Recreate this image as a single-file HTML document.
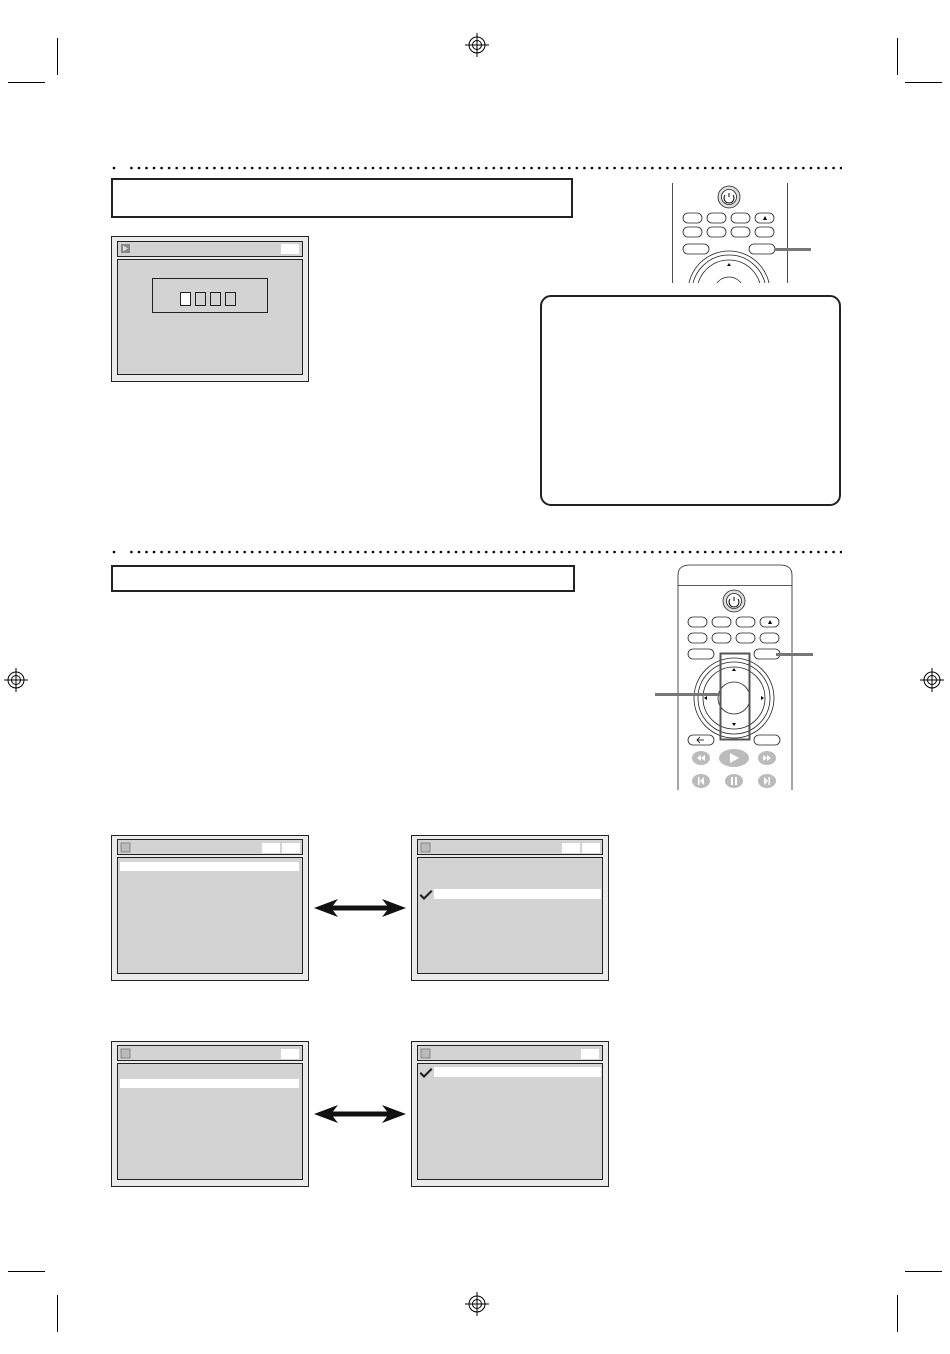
<!DOCTYPE html>
<html><head><meta charset="utf-8"><style>
html,body{margin:0;padding:0;background:#fff}
svg{display:block;font-family:"Liberation Sans",sans-serif}
</style></head><body>
<svg width="950" height="1354" viewBox="0 0 950 1354" xmlns="http://www.w3.org/2000/svg">
<defs>
<g id="reg"><circle r="8" fill="none" stroke="#000" stroke-width="1"/><circle r="4.5" fill="none" stroke="#000" stroke-width="1"/><line x1="-12" y1="0" x2="12" y2="0" stroke="#000"/><line x1="0" y1="-12" x2="0" y2="12" stroke="#000"/></g>
<pattern id="dots" x="130" y="163" width="7.55" height="10" patternUnits="userSpaceOnUse"><circle cx="1.4" cy="5" r="1.3" fill="#000"/></pattern>
<pattern id="dots2" x="130" y="547" width="7.55" height="10" patternUnits="userSpaceOnUse"><circle cx="1.4" cy="5" r="1.3" fill="#000"/></pattern>
<g id="scr"><rect x="0.5" y="0.5" width="197" height="145" fill="#ebebeb" stroke="#222"/><rect x="6.5" y="4.5" width="185" height="15" fill="#d3d3d3" stroke="#222"/><rect x="6.5" y="22.5" width="185" height="116" fill="#d3d3d3" stroke="#222"/><rect x="10" y="8" width="9" height="9" fill="#bbb" stroke="#777" stroke-width="0.8"/></g>
<path id="chk" d="M0 4 l3 3 l7 -7 l1.5 1.5 l-8.5 8.5 l-4.5 -4.5z" fill="#222"/>
</defs>
<use href="#reg" x="477" y="45"/><use href="#reg" x="16" y="680"/><use href="#reg" x="932" y="680"/><use href="#reg" x="477" y="1304"/>
<g stroke="#000" stroke-width="1">
<line x1="57.5" y1="38" x2="57.5" y2="75"/><line x1="897.5" y1="38" x2="897.5" y2="75"/>
<line x1="8" y1="82.5" x2="45" y2="82.5"/><line x1="905" y1="82.5" x2="942" y2="82.5"/>
<line x1="8" y1="1271.5" x2="45" y2="1271.5"/><line x1="905" y1="1271.5" x2="942" y2="1271.5"/>
<line x1="57.5" y1="1295" x2="57.5" y2="1332"/><line x1="897.5" y1="1295" x2="897.5" y2="1332"/>
</g>
<circle cx="114" cy="168" r="1.3" fill="#000"/><circle cx="114" cy="552" r="1.3" fill="#000"/>
<rect x="129" y="163" width="713" height="10" fill="url(#dots)"/>
<rect x="129" y="547" width="713" height="10" fill="url(#dots2)"/>
<rect x="112" y="179" width="460" height="38" fill="none" stroke="#222" stroke-width="2"/>
<rect x="112" y="566" width="462" height="25" fill="none" stroke="#222" stroke-width="2"/>
<g transform="translate(111,236)">
<rect x="0.5" y="0.5" width="197" height="145" fill="#ebebeb" stroke="#222"/><rect x="6.5" y="5.5" width="185" height="15" fill="#d3d3d3" stroke="#222"/><rect x="6.5" y="23.5" width="185" height="115" fill="#d3d3d3" stroke="#222"/>
<rect x="10" y="8" width="9" height="9" fill="#888"/><path d="M12 9.5 L17 12.5 L12 15.5Z" fill="#ddd"/>
<rect x="170" y="8" width="18" height="10" fill="#fff"/>
<rect x="41.5" y="42.5" width="115" height="34" fill="none" stroke="#222"/>
<rect x="69.5" y="56.5" width="10" height="13" fill="#fff" stroke="#222"/>
<rect x="84.5" y="56.5" width="10" height="13" fill="none" stroke="#222"/>
<rect x="99.5" y="56.5" width="10" height="13" fill="none" stroke="#222"/>
<rect x="114.5" y="56.5" width="10" height="13" fill="none" stroke="#222"/>
</g>
<rect x="541" y="296" width="299" height="209" rx="10" fill="#fff" stroke="#222" stroke-width="2"/>
<g stroke="#222" fill="#fff" stroke-width="0.8">
<line x1="672.5" y1="183" x2="672.5" y2="283"/><line x1="787.5" y1="183" x2="787.5" y2="283"/>
<clipPath id="c1"><rect x="672" y="180" width="116" height="103"/></clipPath>
<g clip-path="url(#c1)">
<circle cx="729" cy="292" r="41"/><circle cx="729" cy="292" r="37"/><circle cx="729" cy="292" r="32"/><circle cx="729" cy="292" r="15"/>
</g>
<circle cx="729" cy="197" r="11" fill="#ddd"/><circle cx="729" cy="197" r="7.5" fill="#fff"/>
<rect x="683" y="213" width="19" height="10" rx="5"/><rect x="707" y="213" width="19" height="10" rx="5"/><rect x="731" y="213" width="19" height="10" rx="5"/><rect x="755" y="213" width="19" height="10" rx="5"/>
<rect x="683" y="227" width="19" height="10" rx="5"/><rect x="707" y="227" width="19" height="10" rx="5"/><rect x="731" y="227" width="19" height="10" rx="5"/><rect x="755" y="227" width="19" height="10" rx="5"/>
<rect x="683" y="244" width="26" height="10" rx="5"/><rect x="749" y="244" width="26" height="10" rx="5"/>
</g>
<path d="M729 193 v4 M725 195 a5 5 0 1 0 8 0" stroke="#000" fill="none" stroke-width="1"/>
<path d="M763 220 l2 -4 l2 4z" fill="#000"/><path d="M727 266 l2 -3 l2 3z" fill="#000"/>
<line x1="775" y1="249.5" x2="811" y2="249.5" stroke="#777" stroke-width="3"/>
<g stroke="#222" fill="#fff" stroke-width="0.8">
<path d="M678 790 V575 Q678 565 690 565 H780 Q792 565 792 575 V790" fill="#fff"/>
<line x1="678" y1="585.5" x2="792" y2="585.5"/>
<circle cx="734" cy="601" r="11" fill="#ddd"/><circle cx="734" cy="601" r="7.5"/>
<rect x="688" y="617" width="19" height="10" rx="5"/><rect x="712" y="617" width="19" height="10" rx="5"/><rect x="736" y="617" width="19" height="10" rx="5"/><rect x="760" y="617" width="19" height="10" rx="5"/>
<rect x="688" y="633" width="19" height="10" rx="5"/><rect x="712" y="633" width="19" height="10" rx="5"/><rect x="736" y="633" width="19" height="10" rx="5"/><rect x="760" y="633" width="19" height="10" rx="5"/>
<rect x="688" y="649" width="26" height="10" rx="5"/><rect x="754" y="649" width="26" height="10" rx="5"/>
<circle cx="734" cy="698" r="40"/><circle cx="734" cy="698" r="36"/><circle cx="734" cy="698" r="31"/><circle cx="734" cy="698" r="16"/>
<rect x="688" y="735" width="26" height="10" rx="5"/><rect x="754" y="735" width="26" height="10" rx="5"/>
<ellipse cx="701" cy="758" rx="9" ry="7" fill="#bbb" stroke="none"/><ellipse cx="734" cy="758" rx="15" ry="9" fill="#bbb" stroke="none"/><ellipse cx="767" cy="758" rx="9" ry="7" fill="#bbb" stroke="none"/>
<ellipse cx="701" cy="781" rx="9" ry="7" fill="#bbb" stroke="none"/><ellipse cx="734" cy="781" rx="9" ry="7" fill="#bbb" stroke="none"/><ellipse cx="767" cy="781" rx="9" ry="7" fill="#bbb" stroke="none"/>
</g>
<path d="M734 597 v4 M730 599 a5 5 0 1 0 8 0" stroke="#000" fill="none" stroke-width="1"/>
<path d="M768 624 l2 -4 l2 4z" fill="#000"/>
<path d="M732 671 l2 -3 l2 3z M732 723 l2 3 l2 -3z M761 696 l3 2 l-3 2z M707 696 l-3 2 l3 2z" fill="#000"/>
<path d="M730 753 l9 5 l-9 5z" fill="#fff"/>
<path d="M697 758 l4 -3 v6z M701 758 l4 -3 v6z M771 758 l-4 -3 v6z M767 758 l-4 -3 v6z" fill="#fff"/>
<path d="M731 777 h2 v8 h-2z M735 777 h2 v8 h-2z M698 777 h1.5 v8 h-1.5z M700 781 l4 -4 v8z M770 777 h-1.5 v8 h1.5z M768 781 l-4 -4 v8z" fill="#fff"/>
<path d="M697 740 h7 M700 737 l-3 3 l3 3" stroke="#000" fill="none" stroke-width="0.8"/>
<rect x="720.5" y="653.5" width="29" height="86" fill="none" stroke="#555" stroke-width="2"/>
<line x1="776" y1="654.5" x2="813" y2="654.5" stroke="#777" stroke-width="3"/>
<line x1="655" y1="694.5" x2="720" y2="694.5" stroke="#777" stroke-width="3"/>
<g transform="translate(111,835)"><use href="#scr"/><rect x="151" y="8" width="18" height="10" fill="#fff"/><rect x="171" y="8" width="18" height="10" fill="#fff"/><rect x="9" y="27" width="179" height="9" fill="#fff"/></g>
<g transform="translate(411,835)"><use href="#scr"/><rect x="151" y="8" width="18" height="10" fill="#fff"/><rect x="171" y="8" width="18" height="10" fill="#fff"/><rect x="23" y="54" width="167" height="10" fill="#fff"/><use href="#chk" x="10" y="55"/></g>
<g transform="translate(111,1041)"><use href="#scr"/><rect x="170" y="8" width="18" height="10" fill="#fff"/><rect x="9" y="38" width="179" height="9" fill="#fff"/></g>
<g transform="translate(411,1041)"><use href="#scr"/><rect x="170" y="8" width="18" height="10" fill="#fff"/><rect x="23" y="26" width="167" height="10" fill="#fff"/><use href="#chk" x="10" y="27"/></g>
<g fill="#111">
<path d="M314 908 L338 899 L333 905.5 H387 L382 899 L406 908 L382 917 L387 910.5 H333 L338 917Z"/>
<path d="M314 1114 L338 1105 L333 1111.5 H387 L382 1105 L406 1114 L382 1123 L387 1116.5 H333 L338 1123Z"/>
</g>
</svg>
</body></html>
